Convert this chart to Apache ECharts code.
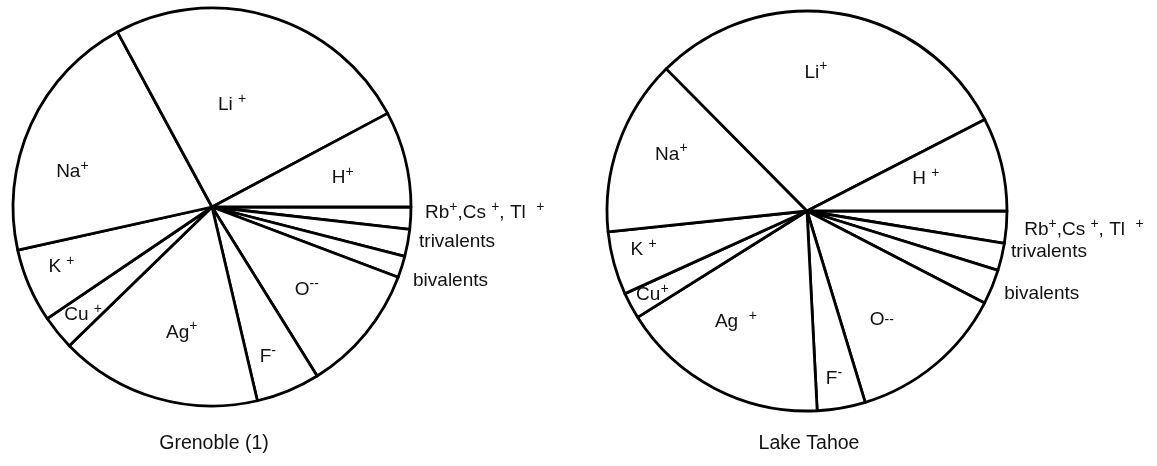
<!DOCTYPE html>
<html><head><meta charset="utf-8">
<script src="https://cdn.jsdelivr.net/npm/echarts@6/dist/echarts.min.js"></script>
<style>html,body{margin:0;padding:0;background:#fff}#c{width:1157px;height:466px}</style>
</head><body><div id="c"></div>
<script>
// ---- data ----
const categories = ['Rb+,Cs+,Tl+', 'trivalents', 'bivalents', 'O--', 'F-', 'Ag+', 'Cu+', 'K+', 'Na+', 'Li+', 'H+'];
const grenobleValues = [1.8, 2.2, 1.75, 10.4, 5.2, 16.4, 2.8, 6.0, 20.6, 25.1, 7.8];
const tahoeValues = [2.58, 2.22, 2.81, 12.69, 3.89, 16.89, 2.14, 5.11, 14.25, 29.86, 7.56];
const chartTitles = ['Grenoble (1)', 'Lake Tahoe'];
const grenobleLabels = ['Rb{s|+},Cs {s|+}, Tl  {s|+}', 'trivalents', 'bivalents', 'O{s|--}', 'F{s|-}', 'Ag{s|+}', 'Cu {s|+}', 'K {s|+}', 'Na{s|+}', 'Li {s|+}', 'H{s|+}'];
const tahoeLabels = ['Rb{s|+},Cs {s|+}, Tl  {s|+}', 'trivalents', 'bivalents', 'O{m|--}', 'F{s|-}', 'Ag  {s|+}', 'Cu{s|+}', 'K {s|+}', 'Na{s|+}', 'Li{s|+}', 'H {s|+}'];

// ---- layout / style (not data) ----
const pies = [
  { cx: 212, cy: 207, r: 199, values: grenobleValues, labels: grenobleLabels,
    // [label radius px, angle tweak deg, align]
    place: [[213, 1.6, 'left'], [210, 0.8, 'left'], [214, -2.5, 'left'], [126, -1.8], [160, -2.1], [129, 2.8], [168, 0.8], [162, -1.6], [144, 10.4], [104, 5.6], [134, -1.5]] },
  { cx: 807, cy: 211, r: 200, values: tahoeValues, labels: tahoeLabels,
    place: [[218, -0.35, 'left'], [208, 1.9, 'left'], [214, -0.45, 'left'], [132, -5.25], [170, -0.8], [132, -5.1], [176, 0.25], [168, -1.7], [147, -3], [139, 5.35], [123, 1.4]] }
];
const FONT = '"Liberation Sans", Arial, Helvetica, sans-serif';

function midAngles(vals) {
  const total = vals.reduce((a, b) => a + b, 0);
  let start = 0; const mids = [];
  vals.forEach(v => { const span = v / total * 360; mids.push(start - span / 2); start -= span; });
  return mids;
}

const series = pies.map((p, si) => {
  const mids = midAngles(p.values);
  return {
    type: 'pie',
    center: [p.cx, p.cy],
    radius: [0, p.r],
    startAngle: 0,
    clockwise: true,
    avoidLabelOverlap: false,
    silent: true,
    animation: false,
    itemStyle: { color: '#fff', borderColor: '#000', borderWidth: 2.8 },
    labelLine: { show: false },
    label: {
      show: true, position: 'inside', color: '#111', fontFamily: FONT, fontSize: 19, lineHeight: 26,
      formatter: (d) => p.labels[d.dataIndex],
      rich: {
        s: { fontSize: 14, lineHeight: 14, verticalAlign: 'top', fontFamily: FONT, color: '#111' },
        m: { fontSize: 14, lineHeight: 26, verticalAlign: 'middle', fontFamily: FONT, color: '#111' }
      }
    },
    labelLayout: (prm) => {
      const pl = p.place[prm.dataIndex];
      const a = (mids[prm.dataIndex] + pl[1]) * Math.PI / 180;
      return { x: p.cx + pl[0] * Math.cos(a), y: p.cy - pl[0] * Math.sin(a), align: pl[2] || 'center', verticalAlign: 'middle' };
    },
    data: categories.map((c, i) => ({ name: c, value: p.values[i] }))
  };
});

const chart = echarts.init(document.getElementById('c'), null, { renderer: 'canvas' });
chart.setOption({
  backgroundColor: '#fff',
  animation: false,
  series: series,
  graphic: pies.map((p, i) => ({
    type: 'text', x: p.cx + 2, y: 444,
    style: { text: chartTitles[i], font: '19.5px ' + FONT, fill: '#111', align: 'center', verticalAlign: 'middle' }
  }))
});
</script></body></html>
